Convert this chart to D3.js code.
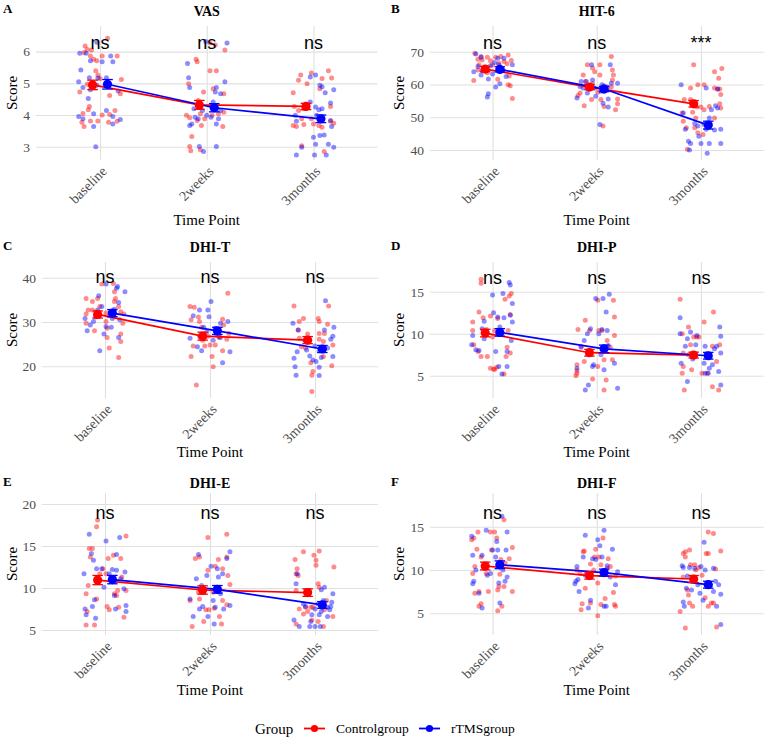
<!DOCTYPE html>
<meta charset="utf-8">
<script src="https://d3js.org/d3.v7.min.js"></script>
<style>
  body { margin: 0; background: #fff; }
  text { font-family: "Liberation Serif", "Times New Roman", serif; }
</style>
<div id="chart"></div>
<script>
// categories, groups, labels
const timePoints = ["baseline", "2weeks", "3months"];
const groupNames = ["Controlgroup", "rTMSgroup"];
const panelTitles = ["VAS", "HIT-6", "DHI-T", "DHI-P", "DHI-E", "DHI-F"];
const panelLetters = ["A", "B", "C", "D", "E", "F"];
const yTickValues = [[3, 4, 5, 6], [40, 50, 60, 70], [20, 30, 40], [5, 10, 15], [5, 10, 15, 20], [5, 10, 15]];
const sigLabels = [["ns", "ns", "ns"], ["ns", "ns", "***"], ["ns", "ns", "ns"],
                   ["ns", "ns", "ns"], ["ns", "ns", "ns"], ["ns", "ns", "ns"]];

// group means and standard errors (per panel, per time point)
const controlMeans = [[4.95, 4.32, 4.27], [64.7, 59.2, 54.1], [31.7, 26.8, 25.9],
                      [10.08, 7.74, 7.46], [10.94, 9.76, 9.45], [10.46, 9.35, 8.96]];
const rtmsMeans = [[4.97, 4.23, 3.88], [64.6, 58.6, 47.6], [32.0, 28.0, 23.9],
                   [10.16, 8.2, 7.38], [11.0, 9.84, 7.98], [10.6, 9.7, 8.3]];
const controlSE = [[0.15, 0.14, 0.1], [0.8, 0.8, 1.0], [0.8, 0.9, 0.8],
                   [0.45, 0.4, 0.35], [0.55, 0.5, 0.45], [0.45, 0.4, 0.4]];
const rtmsSE = [[0.15, 0.13, 0.12], [0.8, 0.8, 1.2], [0.8, 0.8, 0.8],
                [0.45, 0.45, 0.4], [0.5, 0.45, 0.4], [0.45, 0.4, 0.4]];

// individual scores per time point: [jitter (category units), score]
const vasControl = [
  [[0.07,6.42],[-0.14,6.18],[-0.12,6.07],[-0.15,5.97],[-0.08,6.05],[-0.09,5.86],[-0.06,5.76],[-0.03,5.71],[0.02,5.86],[0.16,5.86],[-0.04,5.40],[-0.02,5.26],[0,5.15],[-0.19,4.73],[-0.12,4.97],[0.09,4.62],[0.2,5.12],[0.19,4.67],[-0.10,4.27],[-0.11,4.17],[-0.17,3.77],[-0.15,3.64],[-0.09,3.81],[-0.02,3.81],[0.02,4.0],[0.09,4.02],[0.14,4.14],[0.08,3.77],[0.16,3.8],[-0.16,4.05]],
  [[-0.1,5.76],[-0.09,5.68],[-0.17,4.99],[0.03,6.27],[0.08,6.21],[0.17,6.05],[0.03,5.4],[0.09,5.4],[-0.03,4.73],[0.06,4.83],[0.16,4.67],[-0.08,4.46],[-0.19,3.99],[-0.16,3.91],[-0.06,4.04],[-0.02,3.88],[0.05,3.99],[0.11,4.04],[0.16,4.09],[-0.05,3.67],[0.15,3.64],[-0.14,3.32],[-0.16,3.01],[-0.15,2.87],[-0.06,2.9],[-0.09,3.83]],
  [[-0.19,4.7],[-0.12,5.26],[-0.14,5.1],[-0.02,5.33],[-0.06,4.99],[0.08,5.15],[0.14,5.4],[0.17,5.17],[0.06,4.83],[-0.18,4.27],[-0.14,4.14],[-0.09,4.2],[-0.11,3.88],[-0.19,3.67],[-0.16,3.64],[-0.09,3.7],[0,3.72],[0.05,3.67],[0.08,3.61],[0.16,4.27],[0.19,3.74],[-0.11,3.03],[0.1,2.85],[-0.02,3.88],[0.16,3.8]]
];
const vasRtms = [
  [[-0.19,5.95],[-0.13,5.95],[-0.09,5.71],[-0.03,6.3],[0.02,5.68],[0.1,5.86],[0.12,5.68],[-0.18,5.42],[-0.1,5.18],[-0.02,5.17],[-0.2,5.05],[-0.16,4.87],[-0.09,4.8],[-0.03,4.94],[0.17,4.76],[-0.2,3.95],[-0.16,3.88],[-0.06,4.04],[0.06,4.14],[0.12,3.95],[0.12,3.72],[0.19,3.86],[-0.06,3.64],[-0.04,3.0],[0.06,5.18],[-0.11,4.52]],
  [[-0.18,5.63],[-0.17,5.18],[-0.16,4.87],[-0.01,6.32],[0.19,6.27],[0.17,5.05],[0.09,4.87],[0.08,4.73],[0.13,4.67],[-0.12,4.2],[-0.04,4.14],[0.06,4.41],[-0.11,3.93],[-0.14,3.72],[-0.08,3.88],[0.04,3.93],[0.11,3.88],[0.09,3.72],[-0.16,3.67],[-0.03,2.85],[-0.07,3.01],[0.09,3.01],[0.13,4.14],[0,3.99]],
  [[-0.16,3.8],[-0.17,3.99],[-0.06,4.25],[0.02,4.25],[0.05,4.17],[0.08,4.2],[-0.03,5.2],[0.02,5.26],[0.08,4.89],[0.11,4.7],[0.06,4.94],[0.16,4.38],[0.19,4.8],[-0.03,4.41],[0,3.3],[0.06,3.35],[0.1,3.37],[0.02,3.08],[0.14,3.08],[0.19,2.98],[-0.11,2.98],[-0.16,2.74],[0.01,2.74],[0.12,2.74],[0.17,3.64],[0.16,3.83],[0.03,3.99]]
];
const hitControl = [
  [[-0.18,61.2],[-0.17,69.5],[-0.14,67.7],[-0.13,66.0],[-0.1,67.5],[-0.05,68.3],[-0.08,65.0],[-0.02,67.2],[0.03,68.3],[0.06,66.5],[0.11,67.0],[0.15,69.0],[0.18,67.3],[0.14,66.3],[0.16,62.6],[0.17,59.6],[0.15,59.9],[0.19,55.7],[0.05,61.6],[-0.05,63.6],[-0.11,68.5],[0.1,64.4],[-0.14,64.4],[0,66.0],[0.08,68.5]],
  [[-0.13,62.9],[-0.12,53.5],[-0.16,57.4],[-0.09,66.0],[-0.04,65.0],[-0.02,63.9],[0.03,66.0],[0.03,62.9],[0.07,59.6],[0.14,68.5],[0.15,64.4],[0.16,62.9],[0.15,61.4],[0.14,59.2],[0.2,55.6],[0.2,54.1],[0.18,52.3],[0.07,53.3],[0.04,55.4],[-0.05,55.4],[-0.08,58.9],[0.01,57.6],[0.06,47.3],[-0.18,56.6],[-0.04,60.2],[-0.11,60.9]],
  [[-0.07,66.0],[-0.16,55.4],[-0.18,51.3],[-0.17,48.8],[-0.14,46.8],[-0.13,40.2],[-0.1,55.4],[-0.1,58.9],[-0.03,59.9],[0.03,59.9],[-0.08,51.5],[-0.04,53.1],[0,53.1],[0.03,52.3],[0.08,53.3],[-0.05,49.8],[-0.06,46.8],[-0.03,45.3],[0.02,44.7],[0.13,63.9],[0.17,61.9],[0.2,64.9],[0.13,58.9],[0.16,58.6],[0.19,56.9],[0.18,54.1],[0.19,52.8],[0.13,49.8],[0.18,58.6]]
];
const hitRtms = [
  [[-0.16,69.3],[-0.11,68.3],[-0.18,63.9],[-0.11,62.9],[-0.1,64.2],[-0.04,61.7],[0,63.2],[-0.02,65.7],[0.02,66.7],[0.05,68.0],[0.06,66.0],[0.1,64.4],[0.11,68.0],[0.13,62.4],[0.19,66.0],[0.07,60.2],[0.03,59.2],[-0.05,56.2],[-0.04,57.2],[-0.14,65.5],[-0.08,65.0]],
  [[-0.19,55.9],[-0.15,60.9],[-0.1,60.9],[-0.13,58.9],[-0.04,61.4],[-0.05,66.0],[0.05,59.9],[0.1,59.2],[0.13,66.0],[0.14,60.4],[0.2,60.4],[-0.01,56.4],[0.06,54.3],[0.11,53.1],[0.11,55.6],[0.03,47.8],[-0.09,57.4],[-0.16,59.4],[0.04,57.9],[-0.02,58.9]],
  [[-0.19,59.9],[-0.17,51.3],[-0.15,46.3],[-0.12,42.7],[-0.1,42.0],[-0.02,44.2],[0,42.0],[0.05,58.9],[-0.03,47.3],[0.05,46.3],[0.08,49.8],[0.1,52.3],[0.14,53.5],[0.16,52.8],[0.13,46.1],[0.19,46.3],[0.19,42.0],[0.08,42.0],[0.06,39.0],[-0.11,40.0],[-0.06,48.1],[0.03,47.8],[0.16,58.6]]
];
const dhitControl = [
  [[-0.18,35.3],[-0.16,32.7],[-0.18,31.8],[-0.18,29.7],[-0.12,34.6],[-0.07,35.3],[-0.05,33.5],[-0.03,38.6],[0.01,32.0],[0.01,30.1],[0.02,28.6],[0.02,26.5],[0.04,24.1],[0.08,38.7],[0.09,36.8],[0.1,35.3],[0.09,34.6],[0.13,33.5],[0.15,32.3],[0.18,31.8],[0.17,29.7],[0.15,27.3],[0.15,25.6],[0.13,22.0],[-0.1,28.0],[-0.12,32.7],[0.04,31.4]],
  [[-0.19,33.5],[-0.18,30.5],[-0.18,22.2],[-0.16,24.6],[-0.13,15.8],[-0.15,33.3],[-0.11,31.1],[-0.1,30.1],[-0.07,25.9],[-0.05,24.6],[-0.02,26.8],[0,24.8],[0.02,22.2],[0.03,19.9],[0.05,24.8],[0.08,26.8],[0.1,26.5],[0.12,30.6],[0.13,29.3],[0.12,23.5],[0.17,36.5],[0.18,27.4],[0.16,26.1],[-0.08,28.8]],
  [[-0.2,33.6],[-0.15,30.1],[-0.11,30.8],[-0.16,28.2],[-0.15,26.3],[-0.13,24.4],[-0.09,24.1],[-0.07,27.3],[-0.04,20.8],[-0.03,18.0],[-0.02,18.8],[-0.03,14.3],[0.03,30.8],[0.04,30.1],[0.04,27.4],[0.09,27.4],[0.08,25.6],[0.12,29.5],[0.13,33.6],[0.17,24.8],[0.16,20.1],[0.08,22.2],[0.04,26.1]]
];
const dhitRtms = [
  [[-0.19,30.8],[-0.17,28.0],[-0.14,29.3],[-0.11,30.1],[-0.09,31.1],[-0.06,35.9],[-0.05,23.5],[-0.01,27.3],[0.01,38.6],[0.01,29.0],[0.07,30.8],[0.11,37.6],[0.12,38.0],[0.13,34.4],[0.14,30.5],[0.13,26.5],[0.19,36.8],[-0.07,32.7],[-0.03,33.5],[0.06,28.8],[0.09,32.9]],
  [[-0.19,26.3],[-0.16,31.4],[-0.12,24.4],[-0.1,26.8],[-0.08,23.5],[-0.1,32.7],[-0.02,32.7],[-0.01,31.2],[0.01,34.6],[0.03,25.9],[0.05,28.6],[0.09,26.5],[0.1,29.7],[0.12,20.8],[0.17,30.1],[0.19,23.3],[-0.06,28.8],[-0.03,27.8],[0.06,27.3]],
  [[-0.21,29.7],[-0.2,21.8],[-0.19,19.9],[-0.18,18.0],[-0.17,23.3],[-0.16,28.2],[-0.1,25.9],[-0.08,23.7],[-0.05,22.3],[-0.02,21.4],[0,24.6],[0.01,21.1],[0.04,19.8],[0.04,17.9],[0.06,22.0],[0.1,34.8],[0.12,24.1],[0.15,26.1],[0.17,26.8],[0.18,28.8],[0.17,22.2],[0.09,28.2],[0.04,23.5]]
];
const dhipControl = [
  [[-0.11,16.5],[-0.11,16.0],[-0.19,11.4],[-0.19,10.4],[-0.18,8.7],[-0.14,7.9],[-0.11,7.3],[-0.13,12.6],[-0.09,11.9],[-0.06,10.5],[-0.05,7.3],[-0.02,12.1],[0,9.6],[0.02,10.4],[-0.02,5.9],[0.01,5.8],[0.04,6.0],[0.05,11.8],[0.09,10.2],[0.11,5.2],[0.12,14.1],[0.16,14.5],[0.18,14.8],[0.17,12.3],[0.15,10.4],[0.14,8.4],[0.17,7.7],[0.13,7.3],[0.02,5.75]],
  [[-0.2,5.0],[-0.19,5.6],[-0.19,6.3],[-0.18,10.5],[-0.11,11.6],[-0.12,6.7],[-0.07,10.4],[-0.04,4.6],[0.01,14.0],[0.02,10.4],[0.05,10.4],[0.1,9.2],[0.07,3.3],[0.09,4.5],[0.13,8.4],[0.16,14.0],[0.17,9.8],[0.17,12.0],[0.15,6.9],[0.07,6.9],[0.01,6.1],[-0.06,7.7],[-0.15,8.5],[-0.19,5.3]],
  [[-0.2,14.1],[-0.18,10.0],[-0.17,7.7],[-0.17,6.1],[-0.18,5.3],[-0.16,3.3],[-0.12,10.8],[-0.1,8.7],[-0.09,5.7],[-0.07,9.6],[-0.04,9.6],[-0.02,9.6],[0.03,11.4],[0.12,12.6],[0.11,8.5],[0.07,7.5],[0.11,3.7],[0.15,6.7],[0.17,3.3],[0.18,8.7],[0.06,5.3],[0.01,5.3],[-0.12,7.5]]
];
const dhipRtms = [
  [[-0.2,8.7],[-0.19,9.8],[-0.16,8.1],[-0.13,8.0],[-0.1,10.6],[-0.08,11.5],[0,14.6],[0.01,12.5],[0.03,7.9],[0.06,6.1],[0.09,5.2],[0.1,14.8],[0.11,11.9],[0.14,7.9],[0.14,6.1],[0.16,16.1],[0.17,15.8],[0.19,13.6],[0.17,12.2],[0.19,11.4],[0.18,9.2],[0.07,10.8],[-0.08,9.4],[0.05,12.0]],
  [[-0.19,5.9],[-0.15,8.4],[-0.12,9.2],[-0.11,3.3],[-0.08,3.9],[-0.09,10.0],[-0.06,10.6],[-0.04,6.1],[-0.03,6.3],[-0.01,14.2],[0.04,7.5],[0.05,10.5],[0.06,14.2],[0.09,12.6],[0.1,10.4],[0.12,14.7],[0.17,6.5],[0.2,3.5],[0.11,8.6],[0.07,5.7],[0.02,10.0]],
  [[-0.2,11.9],[-0.2,10.0],[-0.19,6.5],[-0.15,8.5],[-0.13,4.3],[-0.13,9.4],[-0.1,10.2],[-0.08,7.0],[-0.05,8.7],[-0.04,9.8],[0.03,6.5],[0.04,8.5],[0.05,7.6],[0.07,5.3],[0.08,5.9],[0.11,6.3],[0.13,8.2],[0.15,8.5],[0.18,10.8],[0.19,9.7],[0.19,7.7],[0.17,5.5],[0.19,3.9],[0.04,5.3]]
];
const dhieControl = [
  [[-0.18,5.6],[-0.18,9.3],[-0.16,10.3],[-0.15,14.7],[-0.12,14.7],[-0.14,13.7],[-0.17,7.2],[-0.1,5.6],[-0.08,17.3],[-0.07,18.1],[-0.08,8.7],[-0.02,12.3],[0.01,11.7],[0.02,7.8],[0.04,7.4],[0.03,13.5],[0.08,13.9],[0.09,9.3],[0.11,9.1],[0.12,9.7],[0.13,7.7],[0.15,13.5],[0.16,11.3],[0.18,6.5],[0.2,16.2],[0.2,9.7],[0.08,11.2],[-0.05,11.7]],
  [[-0.19,8.5],[-0.17,5.4],[-0.14,13.5],[-0.1,13.7],[-0.11,9.5],[-0.06,6.0],[-0.04,7.4],[-0.02,16.0],[-0.02,12.1],[-0.01,7.4],[0.03,9.5],[0.05,12.6],[0.08,13.4],[0.09,6.6],[0.11,5.7],[0.12,8.5],[0.12,12.3],[0.16,16.4],[0.16,13.7],[0.17,11.5],[0.16,8.0],[0.19,10.4],[-0.1,8.7],[0.04,7.6]],
  [[-0.19,13.4],[-0.18,11.7],[-0.17,12.3],[-0.16,11.5],[-0.18,9.7],[-0.18,5.7],[-0.15,7.5],[-0.11,14.3],[-0.11,6.9],[-0.09,7.7],[-0.07,7.2],[-0.04,7.7],[-0.02,7.7],[-0.01,13.9],[0.01,13.3],[0.01,12.7],[0.04,14.4],[0.03,6.0],[0.03,10.5],[0.04,10.1],[0.09,7.4],[0.11,8.5],[0.18,12.5],[0.17,6.6],[-0.03,6.2],[0.08,5.4]]
];
const dhieRtms = [
  [[-0.2,11.7],[-0.19,7.5],[-0.18,6.8],[-0.15,16.4],[-0.13,14.1],[-0.11,13.3],[-0.1,8.6],[-0.08,12.3],[-0.12,7.8],[-0.09,6.4],[-0.03,12.3],[-0.01,10.1],[0.01,15.6],[0.04,11.7],[0.07,12.2],[0.09,9.1],[0.1,7.5],[0.11,14.0],[0.11,12.1],[0.14,16.0],[0.19,11.9],[0.2,7.9],[0.2,7.2],[0.18,9.9],[0.15,11.1]],
  [[-0.19,8.7],[-0.16,6.6],[-0.13,11.1],[-0.11,14.0],[-0.1,7.5],[-0.08,10.3],[-0.07,7.8],[-0.06,9.5],[-0.03,11.5],[0.01,12.6],[0.03,8.5],[0.05,7.7],[0.07,12.3],[0.08,11.3],[0.1,9.3],[0.12,11.7],[0.13,7.5],[0.16,13.5],[0.19,14.3],[0.19,7.9],[0.04,5.7],[-0.02,6.6]],
  [[-0.2,6.2],[-0.18,10.5],[-0.17,11.7],[-0.15,5.4],[-0.11,8.1],[-0.09,7.8],[-0.05,5.4],[-0.04,6.0],[-0.03,6.8],[0,5.4],[0.03,8.1],[0.04,6.8],[0.05,5.4],[0.06,7.2],[0.08,8.5],[0.06,9.8],[0.12,7.7],[0.14,7.4],[0.15,7.8],[0.16,8.3],[0.17,9.3],[0.12,6.6],[0.09,10.1],[0,7.5]]
];
const dhifControl = [
  [[-0.2,13.5],[-0.18,13.7],[-0.14,14.4],[-0.19,9.6],[-0.17,10.4],[-0.15,12.4],[-0.11,11.5],[-0.17,7.3],[-0.13,7.5],[-0.13,5.8],[-0.11,6.1],[-0.06,9.6],[-0.04,7.5],[-0.02,14.4],[0.02,14.4],[0.04,13.7],[-0.01,12.3],[0.05,7.7],[0.05,5.3],[0.07,9.5],[0.09,5.8],[0.06,8.1],[0.11,15.8],[0.11,8.1],[0.12,10.8],[0.16,11.3],[0.19,12.6],[0.19,7.5],[0.08,11.2]],
  [[-0.13,12.1],[-0.12,12.2],[-0.16,9.6],[-0.11,7.9],[-0.15,5.4],[-0.14,6.1],[-0.06,6.2],[-0.03,10.0],[-0.02,11.5],[-0.01,12.4],[0.01,8.5],[0.02,11.5],[0.01,4.7],[0.04,10.6],[0.04,6.0],[0.06,13.7],[0.08,6.7],[0.11,11.3],[0.1,10.2],[0.13,10.4],[0.16,7.4],[0.18,9.3],[0.18,5.8],[0.17,6.0],[-0.19,10.0],[-0.06,10.7]],
  [[-0.2,5.2],[-0.17,11.9],[-0.15,12.1],[-0.11,12.3],[-0.15,11.5],[-0.15,3.3],[-0.17,9.2],[-0.13,7.7],[-0.12,7.1],[-0.11,6.2],[-0.1,10.6],[-0.08,5.8],[-0.06,10.6],[-0.05,10.0],[-0.02,10.3],[0.01,9.4],[0.04,6.8],[0.05,11.9],[0.07,11.9],[0.07,5.8],[0.1,6.2],[0.12,14.2],[0.07,14.4],[0.14,10.1],[0.12,6.2],[0.19,12.2],[0.15,3.4]]
];
const dhifRtms = [
  [[-0.2,13.9],[-0.19,11.7],[-0.19,8.4],[-0.18,8.7],[-0.16,10.0],[-0.13,7.3],[-0.1,5.6],[-0.1,11.7],[-0.08,10.2],[-0.06,14.6],[-0.05,9.4],[-0.02,9.6],[0,12.3],[0.04,13.3],[0.05,12.3],[0.06,8.5],[0.07,6.2],[0.09,16.2],[0.1,10.0],[0.12,8.7],[0.13,12.3],[0.14,14.4],[0.14,9.2],[0.03,11.5]],
  [[-0.21,8.4],[-0.2,8.7],[-0.18,8.9],[-0.17,7.5],[-0.13,11.5],[-0.11,14.0],[-0.08,5.6],[-0.04,11.3],[-0.01,11.2],[0.01,13.5],[0.03,12.8],[0.05,11.5],[0.07,14.6],[0.07,5.8],[0.09,5.8],[0.1,10.5],[0.13,9.2],[0.15,12.4],[0.18,8.3],[0.2,9.8],[-0.06,6.5],[-0.11,9.4],[-0.19,10.4]],
  [[-0.18,10.5],[-0.17,10.3],[-0.17,6.3],[-0.16,5.8],[-0.14,7.9],[-0.13,9.3],[-0.11,10.3],[-0.09,7.7],[-0.06,10.2],[-0.03,8.3],[-0.01,7.3],[0,10.4],[0.02,6.5],[0.03,13.2],[0.04,10.0],[0.06,8.1],[0.12,10.2],[0.12,7.5],[0.14,8.7],[0.15,5.8],[0.17,8.3],[0.19,7.2],[0.19,3.7],[0.09,8.3]]
];

const controlPoints = [vasControl, hitControl, dhitControl, dhipControl, dhieControl, dhifControl];
const rtmsPoints = [vasRtms, hitRtms, dhitRtms, dhipRtms, dhieRtms, dhifRtms];

// layout of the six panels (pixels) and the y range each panel shows
const panels = [
  {left: 36, right: 377.5, top: 26, bottom: 160, yDomain: [2.58, 6.81], sigY: 6.07},
  {left: 430, right: 763.5, top: 26, bottom: 160, yDomain: [36.95, 77.84], sigY: 70.67},
  {left: 42, right: 378, top: 262, bottom: 398, yDomain: [12.84, 43.54], sigY: 38.69},
  {left: 430, right: 763.5, top: 262, bottom: 398, yDomain: [2.35, 18.54], sigY: 15.98},
  {left: 42, right: 378, top: 493, bottom: 635, yDomain: [4.40, 21.31], sigY: 18.25},
  {left: 430, right: 763.5, top: 493, bottom: 635, yDomain: [2.49, 18.89], sigY: 15.92}
];
const rowText = [
  {letterY: 13.3, titleY: 16, xTitleY: 225},
  {letterY: 249.5, titleY: 251.7, xTitleY: 457},
  {letterY: 485.5, titleY: 488.3, xTitleY: 695}
];

const colors = ["#ff0000", "#0000ff"];
const dodge = [-0.07, 0.07];

const svg = d3.select("#chart").append("svg")
  .attr("width", 767)
  .attr("height", 739)
  .style("background", "#fff");

panels.forEach((p, i) => {
  const row = rowText[Math.floor(i / 2)];
  const leftCol = i % 2 === 0;
  const x = d3.scalePoint().domain(timePoints).range([p.left, p.right]).padding(0.6);
  const y = d3.scaleLinear().domain(p.yDomain).range([p.bottom, p.top]);
  const step = x.step();
  const g = svg.append("g");

  // gridlines
  g.append("g")
    .attr("transform", `translate(${p.left},0)`)
    .call(d3.axisLeft(y).tickValues(yTickValues[i]).tickSize(-(p.right - p.left)).tickFormat(""))
    .call(a => a.select(".domain").remove())
    .call(a => a.selectAll("line").attr("stroke", "#e0e0e0").attr("stroke-width", 1.1));
  g.append("g")
    .attr("transform", `translate(0,${p.bottom})`)
    .call(d3.axisBottom(x).tickSize(-(p.bottom - p.top)).tickFormat(""))
    .call(a => a.select(".domain").remove())
    .call(a => a.selectAll("line").attr("stroke", "#e0e0e0").attr("stroke-width", 1.1));

  // y tick labels
  g.append("g")
    .attr("transform", `translate(${p.left},0)`)
    .call(d3.axisLeft(y).tickValues(yTickValues[i]).tickFormat(d3.format("d")).tickSize(0).tickPadding(6))
    .call(a => a.select(".domain").remove())
    .call(a => a.selectAll("text")
      .attr("fill", "#4d4d4d")
      .style("font-family", "Liberation Serif, serif")
      .style("font-size", "13.5px"));

  // x tick labels, rotated 45 degrees
  g.append("g")
    .attr("transform", `translate(0,${p.bottom})`)
    .call(d3.axisBottom(x).tickSize(0).tickPadding(0))
    .call(a => a.select(".domain").remove())
    .call(a => a.selectAll("text")
      .attr("y", 0)
      .attr("dy", "0.72em")
      .attr("fill", "#4d4d4d")
      .attr("text-anchor", "end")
      .attr("transform", "translate(0,5) rotate(-45)")
      .style("font-family", "Liberation Serif, serif")
      .style("font-size", "14px"));

  // jittered raw points
  [controlPoints[i], rtmsPoints[i]].forEach((series, gi) => {
    series.forEach((pts, t) => {
      g.append("g").selectAll("circle").data(pts).join("circle")
        .attr("cx", d => x(timePoints[t]) + d[0] * step)
        .attr("cy", d => y(d[1]))
        .attr("r", 2.5)
        .attr("fill", colors[gi])
        .attr("fill-opacity", 0.45);
    });
  });

  // mean lines, error bars, mean points
  const meanSets = [[controlMeans[i], controlSE[i]], [rtmsMeans[i], rtmsSE[i]]];
  meanSets.forEach(([means, se], gi) => {
    const mx = t => x(timePoints[t]) + dodge[gi] * step;
    g.append("path")
      .datum(means)
      .attr("fill", "none")
      .attr("stroke", colors[gi])
      .attr("stroke-width", 1.7)
      .attr("d", d3.line().x((d, t) => mx(t)).y(d => y(d)));
  });
  meanSets.forEach(([means, se], gi) => {
    const mx = t => x(timePoints[t]) + dodge[gi] * step;
    const cap = step * 0.05;
    const eb = g.append("g").attr("stroke", colors[gi]).attr("stroke-width", 1.3);
    means.forEach((m, t) => {
      eb.append("line").attr("x1", mx(t)).attr("x2", mx(t)).attr("y1", y(m - se[t])).attr("y2", y(m + se[t]));
      eb.append("line").attr("x1", mx(t) - cap).attr("x2", mx(t) + cap).attr("y1", y(m - se[t])).attr("y2", y(m - se[t]));
      eb.append("line").attr("x1", mx(t) - cap).attr("x2", mx(t) + cap).attr("y1", y(m + se[t])).attr("y2", y(m + se[t]));
    });
    g.append("g").selectAll("circle").data(means).join("circle")
      .attr("cx", (d, t) => mx(t))
      .attr("cy", d => y(d))
      .attr("r", 4.6)
      .attr("fill", colors[gi]);
  });

  // significance labels
  g.append("g").selectAll("text").data(sigLabels[i]).join("text")
    .attr("x", (d, t) => x(timePoints[t]))
    .attr("y", y(p.sigY))
    .attr("text-anchor", "middle")
    .style("font-family", "Liberation Sans, Arial, sans-serif")
    .style("font-size", "18px")
    .text(d => d);

  // panel title and letter
  g.append("text")
    .attr("x", (p.left + p.right) / 2)
    .attr("y", row.titleY)
    .attr("text-anchor", "middle")
    .style("font-weight", "bold")
    .style("font-size", "14px")
    .text(panelTitles[i]);
  g.append("text")
    .attr("x", leftCol ? 3 : 391)
    .attr("y", row.letterY)
    .style("font-weight", "bold")
    .style("font-size", "13px")
    .text(panelLetters[i]);

  // axis titles
  g.append("text")
    .attr("transform", `translate(${leftCol ? 12 : 399},${(p.top + p.bottom) / 2}) rotate(-90)`)
    .attr("text-anchor", "middle")
    .attr("dominant-baseline", "central")
    .style("font-size", "15px")
    .text("Score");
  g.append("text")
    .attr("x", (p.left + p.right) / 2)
    .attr("y", row.xTitleY)
    .attr("text-anchor", "middle")
    .style("font-size", "15px")
    .text("Time Point");
});

// legend
const legend = svg.append("g").attr("transform", "translate(0,728.5)");
legend.append("text")
  .attr("x", 255).attr("y", 0).attr("dy", "0.35em")
  .style("font-size", "15px")
  .text("Group");
const keyX = [304, 419];
groupNames.forEach((name, gi) => {
  legend.append("line")
    .attr("x1", keyX[gi]).attr("x2", keyX[gi] + 21)
    .attr("stroke", colors[gi]).attr("stroke-width", 1.8);
  legend.append("circle")
    .attr("cx", keyX[gi] + 10.5).attr("r", 3.6)
    .attr("fill", colors[gi]);
  legend.append("text")
    .attr("x", keyX[gi] + 32).attr("y", 0).attr("dy", "0.35em")
    .style("font-size", "13.5px")
    .text(name);
});
</script>
